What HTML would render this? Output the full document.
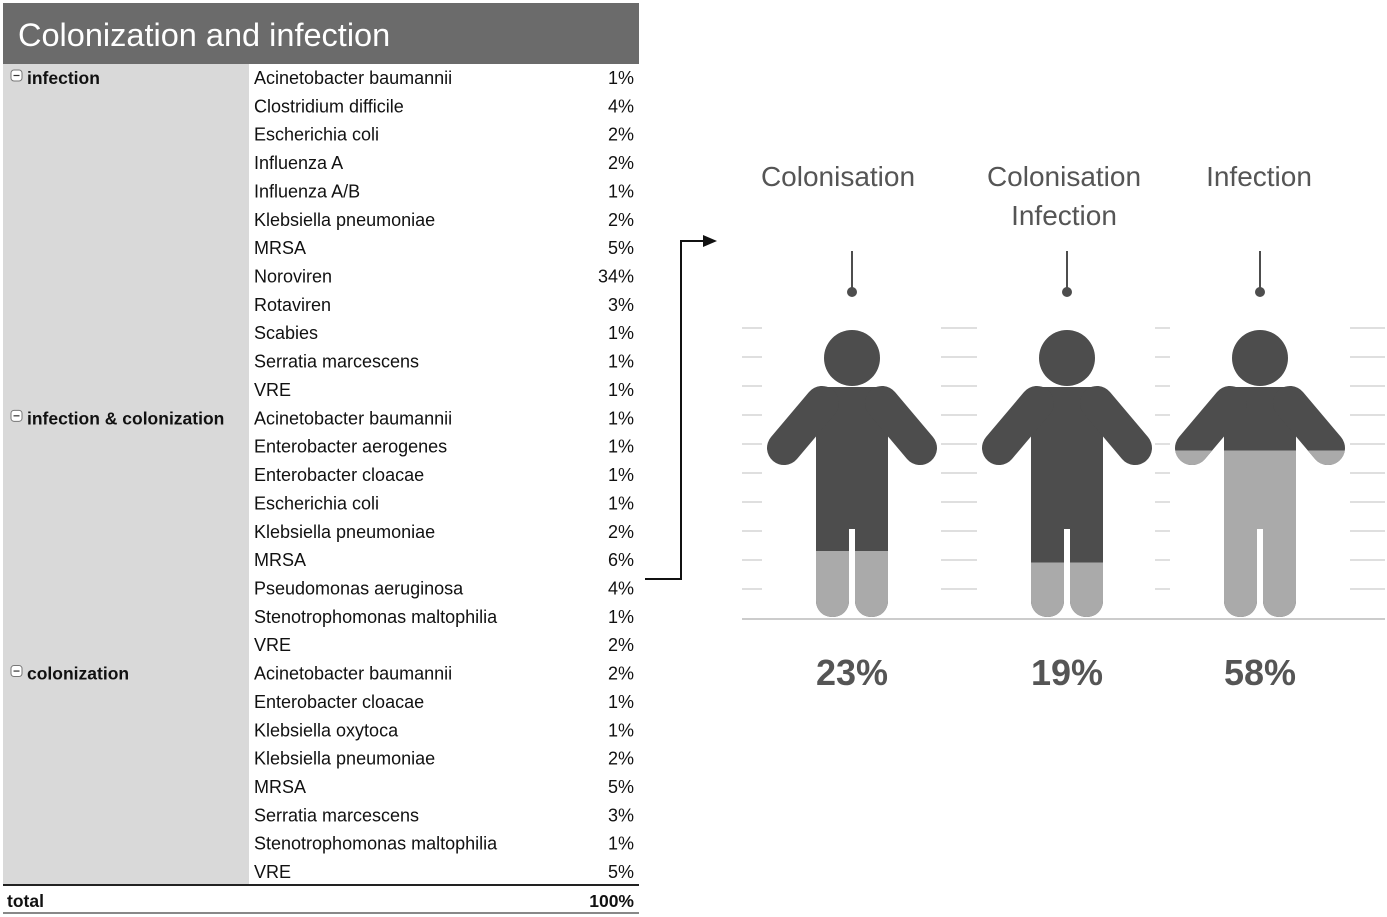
<!DOCTYPE html>
<html><head><meta charset="utf-8"><style>
html,body{margin:0;padding:0;background:#fff;}
svg{display:block;font-family:"Liberation Sans",sans-serif;}
</style></head><body>
<svg id="chart" width="1387" height="917" viewBox="0 0 1387 917" xmlns="http://www.w3.org/2000/svg">
<rect x="3" y="3" width="636" height="61" fill="#6b6b6b"/>
<text x="18" y="46" font-size="32.5" fill="#fff">Colonization and infection</text>
<rect x="3" y="64" width="246" height="821" fill="#d9d9d9"/>
<g id="table"></g>
<line x1="3" y1="885" x2="639" y2="885" stroke="#222" stroke-width="2"/>
<text x="7" y="907" font-size="17.5" font-weight="bold" fill="#111">total</text>
<text x="634" y="907" font-size="17.5" font-weight="bold" fill="#111" text-anchor="end">100%</text>
<line x1="3" y1="913" x2="639" y2="913" stroke="#888" stroke-width="2"/>
<path d="M645 579 H681 V241 H703" fill="none" stroke="#111" stroke-width="2"/>
<polygon points="703,235 717,241 703,247" fill="#111"/>
<g id="figs"></g>
</svg>
<script>
const groups = ["infection","infection & colonization","colonization"];
const groupNames = [
 ["Acinetobacter baumannii","Clostridium difficile","Escherichia coli","Influenza A","Influenza A/B","Klebsiella pneumoniae","MRSA","Noroviren","Rotaviren","Scabies","Serratia marcescens","VRE"],
 ["Acinetobacter baumannii","Enterobacter aerogenes","Enterobacter cloacae","Escherichia coli","Klebsiella pneumoniae","MRSA","Pseudomonas aeruginosa","Stenotrophomonas maltophilia","VRE"],
 ["Acinetobacter baumannii","Enterobacter cloacae","Klebsiella oxytoca","Klebsiella pneumoniae","MRSA","Serratia marcescens","Stenotrophomonas maltophilia","VRE"]];
const groupValues = [
 [1,4,2,2,1,2,5,34,3,1,1,1],
 [1,1,1,1,2,6,4,1,2],
 [2,1,1,2,5,3,1,5]];
const categories = ["Colonisation","Colonisation|Infection","Infection"];
const shares = [23,19,58];

const NS="http://www.w3.org/2000/svg";
function mk(tag,attrs,parent){const e=document.createElementNS(NS,tag);for(const k in attrs)e.setAttribute(k,attrs[k]);parent.appendChild(e);return e;}
const tbl=document.getElementById('table');
const rowH=28.36, row0=78;
let r=0;
groups.forEach((g,gi)=>{
  const gy=row0+r*rowH;
  const ic=mk('rect',{x:11,y:gy-8,width:11,height:11,rx:3,fill:'#fff',stroke:'#777','stroke-width':1},tbl);
  
  
  mk('line',{x1:13.5,y1:gy-2.5,x2:19.5,y2:gy-2.5,stroke:'#333','stroke-width':1.2},tbl);
  const gl=mk('text',{x:27,y:gy+6,'font-size':17.5,'font-weight':'bold',fill:'#111'},tbl);
  gl.textContent=g;
  
  
  groupNames[gi].forEach((n,i)=>{
    const y=row0+r*rowH+6;
    const t=mk('text',{x:254,y:y,'font-size':18,fill:'#111'},tbl);
    t.textContent=n;
    
    
    const v=mk('text',{x:634,y:y,'font-size':18,fill:'#111','text-anchor':'end'},tbl);
    v.textContent=groupValues[gi][i]+'%';
    
    
    r++;
  });
});

const figs=document.getElementById('figs');
const cxs=[852,1067,1260];
const topY=330, botY=617;
function yScale(p){return botY-(botY-topY)*p/100;}
const dashX=[[742,762],[941,977],[1155,1170],[1350,1385]];
for(let i=0;i<10;i++){
  const y=328+i*29;
  dashX.forEach(d=>{const l=mk('line',{x1:d[0],y1:y,x2:d[1],y2:y,stroke:'#ccc','stroke-width':1.2},figs);
    
    });
}
const base=mk('line',{x1:742,y1:619,x2:1385,y2:619,stroke:'#ccc','stroke-width':2},figs);


function person(cx,fill,parent){
  const g=mk('g',{fill:fill,stroke:'none'},parent);
  mk('circle',{cx:cx,cy:358,r:28},g);
  mk('path',{d:`M${cx-28} 387 H${cx+28} Q${cx+36} 387 ${cx+36} 395 V560 H${cx-36} V395 Q${cx-36} 387 ${cx-28} 387Z`},g);
  mk('line',{x1:cx-30,y1:403,x2:cx-68,y2:448,stroke:fill,'stroke-width':34,'stroke-linecap':'round'},g);
  mk('line',{x1:cx+30,y1:403,x2:cx+68,y2:448,stroke:fill,'stroke-width':34,'stroke-linecap':'round'},g);
  mk('rect',{x:cx-36,y:520,width:33,height:97,rx:16},g);
  mk('rect',{x:cx+3,y:520,width:33,height:97,rx:16},g);
  mk('rect',{x:cx-36,y:520,width:33,height:60},g);
  mk('rect',{x:cx+3,y:520,width:33,height:60},g);
  return g;
}
categories.forEach((c,i)=>{
  const cx=cxs[i];
  const cp=mk('clipPath',{id:'clip'+i},figs);
  mk('rect',{x:cx-100,y:yScale(shares[i]),width:200,height:botY-yScale(shares[i])+5},cp);
  const d=person(cx,'#4d4d4d',figs);
  
  
  const lgt=person(cx,'#aaaaaa',figs);
  lgt.setAttribute('clip-path','url(#clip'+i+')');
  
  
  mk('rect',{x:cx-3,y:529,width:6,height:89,fill:'#fff'},figs);
  const pin=mk('line',{x1:cx,y1:251,x2:cx,y2:291,stroke:'#4d4d4d','stroke-width':2},figs);
  
  
  mk('circle',{cx:cx,cy:292,r:5,fill:'#4d4d4d'},figs);
  const lines=c.split('|');
  lines.forEach((ln,k)=>{
    const t=mk('text',{x:cx+(i===0?-14:i===1?-3:-1),y:186+k*39,'font-size':28,fill:'#555','text-anchor':'middle'},figs);
    t.textContent=ln;
    
    
  });
  const p=mk('text',{x:cx,y:685,'font-size':36,'font-weight':'bold',fill:'#555','text-anchor':'middle'},figs);
  p.textContent=shares[i]+'%';
  
  
});
</script>
</body></html>
